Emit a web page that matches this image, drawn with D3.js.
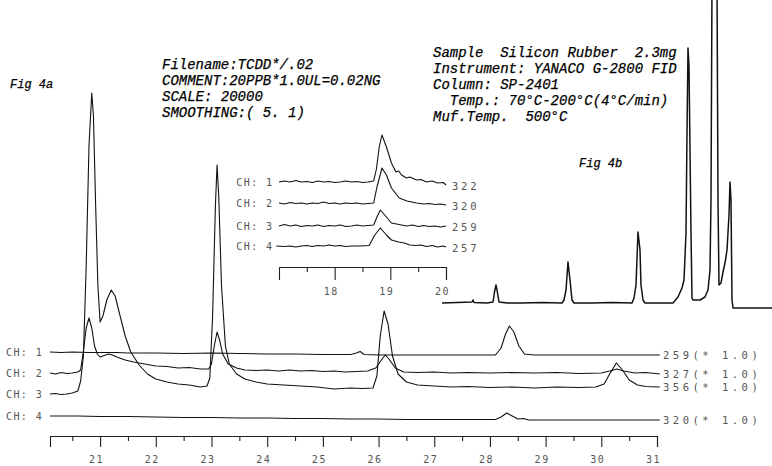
<!DOCTYPE html>
<html><head><meta charset="utf-8">
<script src="https://cdn.jsdelivr.net/npm/d3@7"></script>
<style>
html,body{margin:0;padding:0;background:#fff;}
svg{display:block;}
.ann{font-family:"Liberation Mono",monospace;font-style:italic;fill:#000;stroke:#000;stroke-width:0.25px;white-space:pre;}
.plt{font-family:"DejaVu Sans Mono",monospace;fill:#555;}
</style></head><body>
<svg id="c" width="772" height="466"></svg>
<script>
// ---------- Fig 4a main chromatogram (retention time, min ; relative response) ----------
const mainTicks = [21,22,23,24,25,26,27,28,29,30,31];
const mainMinorTicks = [20.5,21.5,22.5,23.5,24.5,25.5,26.5,27.5,28.5,29.5,30.5];
const channelNames = ["CH: 1","CH: 2","CH: 3","CH: 4"];
const channelTags = ["259(* 1.0)","327(* 1.0)","356(* 1.0)","320(* 1.0)"];

const ch1 = [[20.1,84],[20.3,83.5],[20.5,84],[20.8,83.5],[21,83.5],[21.3,83.5],[21.5,83],[22,83],[22.5,82.5],[23,83],[23.5,82.5],[24,82],[24.5,82],[25,81.5],[25.5,81.5],[25.6,83],[25.67,84.5],[25.74,81.5],[26,81],[26.5,81],[27,81],[27.5,81],[28.1,81],[28.2,88],[28.28,102],[28.35,110],[28.43,104],[28.52,90],[28.62,82],[28.8,81],[29.5,81],[30,81],[30.5,81],[31.05,81]];

const ch2 = [[20.1,63],[20.2,62],[20.3,63.5],[20.4,62.5],[20.5,63],[20.6,64],[20.65,66],[20.7,85],[20.75,108],[20.8,118],[20.85,108],[20.9,90],[20.95,82],[21.0,79],[21.05,80],[21.15,82],[21.22,81],[21.3,79],[21.45,76],[21.6,74],[21.8,72],[22.0,70],[22.2,69.5],[22.4,68],[22.6,68.5],[22.8,67],[22.95,67],[23.0,72],[23.05,90],[23.1,104],[23.15,95],[23.2,82],[23.3,72],[23.45,68],[23.6,66],[23.8,65.5],[24,66],[24.2,65],[24.4,66],[24.6,65],[24.8,65.5],[25,64.5],[25.2,65],[25.4,64],[25.6,64.5],[25.8,65],[25.95,68],[26.05,76],[26.12,81],[26.2,76],[26.3,68],[26.45,64],[26.7,63.5],[27,64],[27.3,63],[27.6,63.5],[28,63],[28.4,63.5],[28.8,63],[29.2,63.5],[29.6,62.5],[30,63],[30.15,65],[30.28,67],[30.4,65],[30.6,63],[30.8,63.5],[31.05,62]];

const ch3 = [[20.1,42],[20.2,42.5],[20.3,41.5],[20.4,42],[20.5,43],[20.6,45],[20.65,55],[20.7,80],[20.75,170],[20.8,290],[20.85,343],[20.88,320],[20.92,230],[20.96,150],[21.0,114],[21.05,120],[21.12,136],[21.2,146],[21.27,140],[21.35,122],[21.45,100],[21.55,84],[21.7,71],[21.85,62],[22.0,57],[22.2,54],[22.4,52],[22.6,51],[22.8,49],[22.92,50],[22.97,58],[23.02,120],[23.07,230],[23.1,271],[23.13,240],[23.18,150],[23.25,90],[23.32,72],[23.45,62],[23.6,57],[23.8,54],[24.0,52],[24.3,51],[24.6,50],[24.9,49],[25.2,47],[25.5,48],[25.7,47.5],[25.9,48],[25.97,60],[26.03,100],[26.1,125],[26.17,112],[26.25,80],[26.35,62],[26.5,54],[26.7,51],[27,50],[27.3,49],[27.6,49.5],[28,48.5],[28.4,49],[28.8,48],[29.2,49],[29.6,48.5],[29.9,49],[30.05,52],[30.15,62],[30.27,73],[30.38,66],[30.5,56],[30.65,51],[30.8,49.5],[31.05,49]];

const ch4 = [[20.1,20],[20.6,20],[21,19.5],[21.5,19.5],[22,19],[22.5,18.5],[23,18.5],[23.5,18],[24,18],[24.5,17.5],[25,17.5],[25.5,17],[26,17],[26.5,16.5],[27,16.5],[27.5,16.5],[28.1,16.5],[28.2,19],[28.3,23],[28.4,20],[28.5,17],[28.6,17.5],[28.7,16],[29,16],[29.5,16],[30,16],[30.5,16],[31.05,16]];

// ---------- Inset (17-20 min) ----------
const insetTicks = [18,19,20];
const insetMinorTicks = [17.5,18.5,19.5];
const insetTags = ["322","320","259","257"];
const in1 = [[17.0,85],[17.1,86],[17.2,85],[17.3,86.5],[17.4,85],[17.5,85.5],[17.6,84.5],[17.7,86],[17.8,85],[17.9,85.5],[18.0,84.5],[18.1,85],[18.2,86],[18.3,85],[18.4,85.5],[18.5,84.5],[18.6,85],[18.7,86],[18.75,98],[18.8,120],[18.85,132],[18.93,120],[19.02,104],[19.1,95],[19.15,96],[19.2,92],[19.29,89],[19.35,90],[19.47,87],[19.55,87.5],[19.65,85],[19.75,86],[19.85,84],[19.95,84.5],[20.0,82]];
const in2 = [[17.0,64],[17.1,63],[17.2,64.5],[17.3,63.5],[17.4,64],[17.5,63],[17.6,64],[17.7,63.5],[17.8,65],[17.9,63.5],[18.0,64],[18.1,63],[18.2,64],[18.3,63.5],[18.4,64],[18.5,63],[18.6,63.5],[18.7,64],[18.76,80],[18.85,99],[18.93,92],[19.02,79],[19.16,69],[19.3,66],[19.47,64],[19.6,63],[19.7,63.5],[19.8,62.5],[19.9,63],[20.0,62]];
const in3 = [[17.0,41],[17.1,42.5],[17.2,41],[17.3,42],[17.4,40.5],[17.5,41.5],[17.6,41],[17.7,42],[17.8,40.5],[17.9,41.5],[18.0,41],[18.1,42],[18.2,40.5],[18.3,41],[18.4,42],[18.5,41],[18.6,41.5],[18.7,42],[18.76,50],[18.82,57],[18.93,50],[19.02,44],[19.2,42],[19.3,41],[19.4,42],[19.5,40.5],[19.6,41.5],[19.7,40.5],[19.8,41],[19.9,40],[20.0,41]];
const in4 = [[16.95,21],[17.1,20.5],[17.2,21],[17.3,20],[17.4,21],[17.5,21.5],[17.6,20.5],[17.7,21.5],[17.8,21],[17.9,22],[18.0,21],[18.1,21.5],[18.2,20.5],[18.3,21],[18.45,21],[18.62,21.5],[18.72,32],[18.82,39],[18.93,32],[19.02,27],[19.15,25],[19.25,24],[19.35,22],[19.45,21.5],[19.55,22],[19.65,20.5],[19.75,21.5],[19.85,20],[19.95,21],[20.0,20]];

// ---------- Fig 4b FID chromatogram (arbitrary time ; response) ----------
const fid = [[0,0],[1.5,0.5],[3.0,1],[3.1,3],[3.2,0.5],[4.5,0],[5.1,1],[5.25,11],[5.4,18],[5.5,13],[5.7,1],[6.5,0],[8,0],[10,0.5],[12.0,0],[12.2,3],[12.4,13],[12.6,41],[12.8,23],[13.0,3],[13.2,0],[15,0],[17,0.5],[19.0,0],[19.2,5],[19.4,18],[19.6,71],[19.8,53],[19.9,18],[20.1,3],[20.3,0],[22,0],[23.1,0],[23.6,6],[24.0,15],[24.2,23],[24.4,70],[24.5,170],[24.6,255],[24.7,236],[24.9,70],[25.0,5],[25.1,3],[25.8,3],[26.3,6],[26.6,13],[26.8,33],[26.9,103],[27.0,320],[27.5,320],[27.6,103],[27.7,18],[27.9,20],[28.1,31],[28.3,40],[28.5,53],[28.7,88],[28.8,121],[28.9,103],[29.0,3],[29.1,-5],[30,-5],[33,-5]];

// ---------- Annotation texts ----------
const fileInfo = ["Filename:TCDD*/.02","COMMENT:20PPB*1.0UL=0.02NG","SCALE: 20000","SMOOTHING:( 5. 1)"];
const sampleInfo = ["Sample  Silicon Rubber  2.3mg","Instrument: YANACO G-2800 FID","Column: SP-2401","  Temp.: 70\u00B0C-200\u00B0C(4\u00B0C/min)","Muf.Temp.  500\u00B0C"];

const svg = d3.select("#c");

// main scales
const x = d3.scaleLinear().domain([20.1,31]).range([50,657]);
const y = d3.scaleLinear().domain([0,436]).range([436,0]);
const line = d3.line().x(d=>x(d[0])).y(d=>y(d[1]));
const mainSeries = [ch1,ch2,ch3,ch4];

const gMain = svg.append("g");
mainSeries.forEach(s=>{
  gMain.append("path").attr("d",line(s)).attr("fill","none").attr("stroke","#111").attr("stroke-width",1.1).attr("stroke-linejoin","round");
});
mainSeries.forEach((s,i)=>{
  gMain.append("text").attr("class","plt").attr("x",6).attr("y",y(s[0][1])+3.5)
    .style("font-size","10px").style("letter-spacing","1.4px").text(channelNames[i]);
  const last = s[s.length-1];
  gMain.append("text").attr("class","plt").attr("x",663).attr("y",y(last[1])+3.5)
    .style("font-size","10.5px").style("letter-spacing","3.5px").text(channelTags[i]);
});

// main axis
const ax = svg.append("g").attr("transform","translate(0,436)")
  .call(d3.axisBottom(x).tickValues(mainTicks).tickSize(11).tickSizeOuter(11).tickPadding(9).tickFormat(d3.format("d")));
ax.selectAll("text").attr("class","plt").attr("dx",-4).style("font-size","10px").style("letter-spacing","1.5px").attr("fill","#555");
svg.append("g").attr("transform","translate(0,436)")
  .call(d3.axisBottom(x).tickValues(mainMinorTicks).tickSize(5).tickFormat(""))
  .select(".domain").remove();
svg.selectAll(".tick line, .domain").attr("stroke","#222").attr("stroke-width",1.1);

// inset
const xi = d3.scaleLinear().domain([17,20]).range([279,446]);
const yi = d3.scaleLinear().domain([0,267]).range([267,0]);
const li = d3.line().x(d=>xi(d[0])).y(d=>yi(d[1]));
const insetSeries = [in1,in2,in3,in4];
const gIn = svg.append("g");
insetSeries.forEach((s,i)=>{
  gIn.append("path").attr("d",li(s)).attr("fill","none").attr("stroke","#111").attr("stroke-width",1.1).attr("stroke-linejoin","round");
  gIn.append("text").attr("class","plt").attr("x",xi(16.9)).attr("y",yi(s[0][1])+3.5).attr("text-anchor","end")
    .style("font-size","10px").style("letter-spacing","1.4px").text(channelNames[i]);
  const last = s[s.length-1];
  gIn.append("text").attr("class","plt").attr("x",xi(20)+6).attr("y",yi(last[1])+4.5)
    .style("font-size","10.5px").style("letter-spacing","2.8px").text(insetTags[i]);
});
const axi = svg.append("g").attr("transform","translate(0,267)")
  .call(d3.axisBottom(xi).tickValues(insetTicks).tickSize(13).tickSizeOuter(13).tickPadding(8).tickFormat(d3.format("d")));
axi.selectAll("text").attr("class","plt").attr("dx",-4).style("font-size","10px").style("letter-spacing","1.5px").attr("fill","#555");
svg.append("g").attr("transform","translate(0,267)")
  .call(d3.axisBottom(xi).tickValues(insetMinorTicks).tickSize(5).tickFormat(""))
  .select(".domain").remove();
svg.selectAll(".tick line, .domain").attr("stroke","#222").attr("stroke-width",1.1);

// Fig 4b
const x4 = d3.scaleLinear().domain([0,33]).range([442,772]);
const y4 = d3.scaleLinear().domain([0,300]).range([303,3]);
svg.append("path").attr("d",d3.line().x(d=>x4(d[0])).y(d=>y4(d[1]))(fid))
  .attr("fill","none").attr("stroke","#111").attr("stroke-width",1.5).attr("stroke-linejoin","round");

// annotations
svg.append("text").attr("class","ann").attr("x",10).attr("y",88).style("font-size","12px").text("Fig 4a");
svg.append("text").attr("class","ann").attr("x",579).attr("y",167).style("font-size","12px").text("Fig 4b");
fileInfo.forEach((t,i)=>{
  svg.append("text").attr("class","ann").attr("x",162).attr("y",69+i*16).style("font-size","14px").text(t);
});
sampleInfo.forEach((t,i)=>{
  svg.append("text").attr("class","ann").attr("x",433).attr("y",57+i*16).style("font-size","14px").text(t);
});
</script></body></html>
